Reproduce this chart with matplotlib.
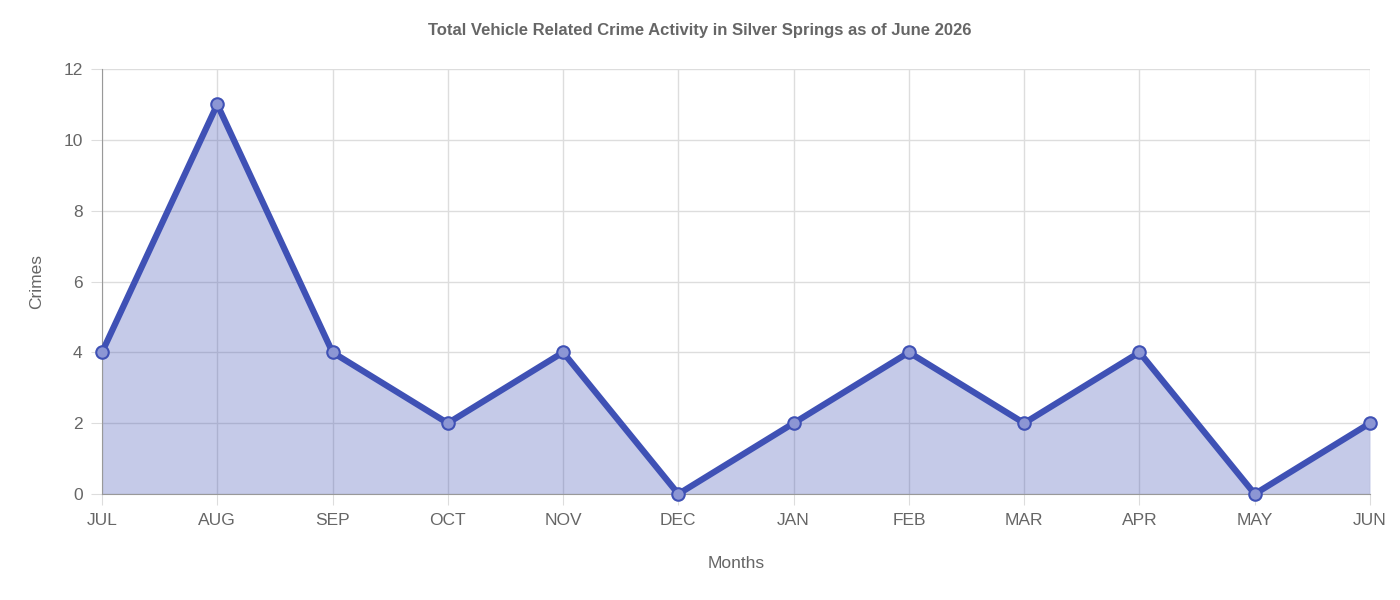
import matplotlib
matplotlib.use("Agg")
import matplotlib.pyplot as plt

plt.rcParams['font.family'] = ['Liberation Sans', 'DejaVu Sans']

months = ['JUL', 'AUG', 'SEP', 'OCT', 'NOV', 'DEC', 'JAN', 'FEB', 'MAR', 'APR', 'MAY', 'JUN']
crimes = [4, 11, 4, 2, 4, 0, 2, 4, 2, 4, 0, 2]

line_color = '#3f51b5'
text_color = '#666666'

fig = plt.figure(figsize=(14, 6), dpi=100)
ax = fig.add_axes([102 / 1400, 1 - 494 / 600, (1370 - 102) / 1400, (494 - 69) / 600])

x = list(range(len(months)))
ax.fill_between(x, crimes, 0, color=line_color, alpha=0.3, linewidth=0)
ax.plot(x, crimes, color=line_color, linewidth=4.5, marker='o', markersize=9,
        markerfacecolor='#8c96d4', markeredgecolor=line_color, markeredgewidth=1.5,
        clip_on=False, zorder=3)

ax.set_xlim(0, len(months) - 1)
ax.set_ylim(0, 12)
ax.set_xticks(x)
ax.set_xticklabels(months)
ax.set_yticks(range(0, 13, 2))
ax.grid(True, color='#dddddd', linewidth=1)
ax.set_axisbelow(True)
for s in ['top', 'right']:
    ax.spines[s].set_visible(False)
for s in ['left', 'bottom']:
    ax.spines[s].set_color('#999999')
ax.tick_params(colors=text_color, labelsize=12.5, length=8, color='#dddddd', pad=6)

ax.set_xlabel('Months', color=text_color, fontsize=12.5, labelpad=20)
ax.set_ylabel('Crimes', color=text_color, fontsize=12.5, labelpad=14)
fig.suptitle('Total Vehicle Related Crime Activity in Silver Springs as of June 2026',
             color=text_color, fontsize=12, fontweight='bold', y=0.962)

fig.savefig('out.png', dpi=100)
